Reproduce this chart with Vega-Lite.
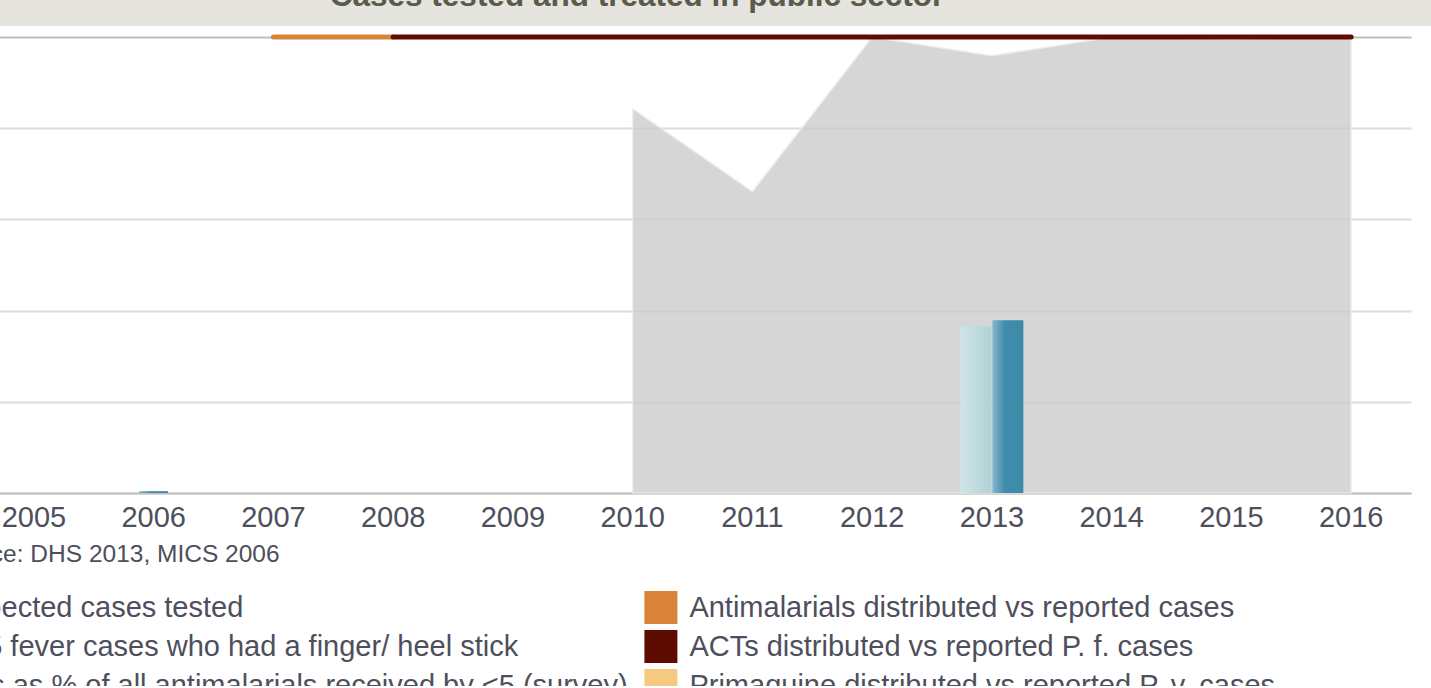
{
  "$schema": "https://vega.github.io/schema/vega-lite/v6.json",
  "background": "white",
  "padding": {"left": -110, "top": 0, "right": 0, "bottom": -16},
  "autosize": {"type": "pad"},
  "spacing": 11,
  "bounds": "flush",
  "config": {"view": {"stroke": null}, "font": "Liberation Sans"},
  "datasets": {
    "series": [
      {"series": "Suspected cases tested", "year": 2010, "value": 84.3},
      {"series": "Suspected cases tested", "year": 2011, "value": 66.1},
      {"series": "Suspected cases tested", "year": 2012, "value": 100},
      {"series": "Suspected cases tested", "year": 2013, "value": 95.9},
      {"series": "Suspected cases tested", "year": 2014, "value": 100},
      {"series": "Suspected cases tested", "year": 2015, "value": 99.5},
      {"series": "Suspected cases tested", "year": 2016, "value": 100},
      {"series": "Antimalarials distributed vs reported cases", "year": 2007, "value": 100},
      {"series": "Antimalarials distributed vs reported cases", "year": 2008, "value": 100},
      {"series": "ACTs distributed vs reported P. f. cases", "year": 2008, "value": 100},
      {"series": "ACTs distributed vs reported P. f. cases", "year": 2009, "value": 100},
      {"series": "ACTs distributed vs reported P. f. cases", "year": 2010, "value": 100},
      {"series": "ACTs distributed vs reported P. f. cases", "year": 2011, "value": 100},
      {"series": "ACTs distributed vs reported P. f. cases", "year": 2012, "value": 100},
      {"series": "ACTs distributed vs reported P. f. cases", "year": 2013, "value": 100},
      {"series": "ACTs distributed vs reported P. f. cases", "year": 2014, "value": 100},
      {"series": "ACTs distributed vs reported P. f. cases", "year": 2015, "value": 100},
      {"series": "ACTs distributed vs reported P. f. cases", "year": 2016, "value": 100},
      {"series": "% <5 fever cases who had a finger/ heel stick", "year": 2013, "value": 36.5},
      {"series": "ACTs as % of all antimalarials received by <5 (survey)", "year": 2013, "value": 37.9},
      {"series": "ACTs as % of all antimalarials received by <5 (survey)", "year": 2006, "value": 0.4}
    ]
  },
  "vconcat": [
    {
      "width": 1458,
      "height": 26,
      "view": {"fill": "#e5e4df", "stroke": null},
      "data": {"values": [{"title": "Cases tested and treated in public sector"}]},
      "mark": {"type": "text", "clip": true, "font": "Liberation Sans", "fontWeight": "bold", "fontSize": 31.5, "color": "#5a5b4b", "baseline": "alphabetic", "align": "center", "dx": -66, "dy": -7},
      "encoding": {"text": {"field": "title", "type": "nominal"}}
    },
    {
      "width": 1437,
      "height": 456,
      "data": {"name": "series"},
      "layer": [
        {
          "transform": [{"filter": "datum.series === 'Suspected cases tested'"}],
          "mark": {"type": "area", "opacity": 0.8, "stroke": "#ebebeb", "strokeWidth": 1.5},
          "encoding": {
            "x": {
              "field": "year", "type": "ordinal", "bandPosition": 0.5,
              "scale": {"type": "band", "domain": [2005, 2006, 2007, 2008, 2009, 2010, 2011, 2012, 2013, 2014, 2015, 2016], "paddingInner": 0, "paddingOuter": 0},
              "axis": {
                "title": "Source: DHS 2013, MICS 2006", "titleFontSize": 24.5, "titleFontWeight": "normal", "titleColor": "#4d4f5c",
                "titleAnchor": "start", "titleAlign": "left", "titleBaseline": "alphabetic", "titleX": -35.4, "titleY": 68,
                "labelFontSize": 29, "labelColor": "#4d4f5c", "labelAngle": 0, "labelPadding": 10,
                "ticks": false, "tickSize": 0, "domainColor": "#c0c0c0", "domainWidth": 2, "grid": false
              }
            },
            "y": {
              "field": "value", "type": "quantitative",
              "scale": {"domain": [0, 100], "nice": false},
              "axis": {
                "values": [0, 20, 40, 60, 80, 100], "labels": false, "ticks": false, "domain": false, "title": null,
                "grid": true, "gridWidth": 2,
                "gridColor": {"condition": {"test": "datum.value === 100", "value": "#bdbdbd"}, "value": "#dcdcdc"}
              }
            },
            "color": {
              "field": "series", "type": "nominal",
              "scale": {
                "domain": [
                  "Suspected cases tested",
                  "% <5 fever cases who had a finger/ heel stick",
                  "ACTs as % of all antimalarials received by <5 (survey)",
                  "Antimalarials distributed vs reported cases",
                  "ACTs distributed vs reported P. f. cases",
                  "Primaquine distributed vs reported P. v. cases"
                ],
                "range": ["#cccccc", "#b3d4d7", "#3d8aa8", "#d9833a", "#5e0c00", "#f5c97f"]
              },
              "legend": {
                "orient": "none", "legendX": -83.6, "legendY": 591, "columns": 2, "columnPadding": 16, "rowPadding": 6,
                "symbolType": "square", "symbolSize": 1089, "symbolStrokeWidth": 0, "symbolOpacity": 1,
                "labelFontSize": 29, "labelColor": "#4d4f5c", "labelOffset": 12, "labelLimit": 2000,
                "title": null, "padding": 0
              }
            }
          }
        },
        {
          "transform": [{"filter": "datum.series === 'Antimalarials distributed vs reported cases'"}],
          "mark": {"type": "line", "color": "#d9833a", "strokeWidth": 5, "strokeCap": "round"},
          "encoding": {
            "x": {"field": "year", "type": "ordinal", "bandPosition": 0.5},
            "y": {"field": "value", "type": "quantitative"}
          }
        },
        {
          "transform": [{"filter": "datum.series === 'ACTs distributed vs reported P. f. cases'"}],
          "mark": {"type": "line", "color": "#5e0c00", "strokeWidth": 5, "strokeCap": "round"},
          "encoding": {
            "x": {"field": "year", "type": "ordinal", "bandPosition": 0.5},
            "y": {"field": "value", "type": "quantitative"}
          }
        },
        {
          "transform": [{"filter": "datum.series === '% <5 fever cases who had a finger/ heel stick'"}],
          "mark": {
            "type": "bar", "width": 31, "xOffset": -16,
            "color": {"gradient": "linear", "x1": 0, "x2": 1, "y1": 0, "y2": 0, "stops": [{"offset": 0, "color": "#cfe5e8"}, {"offset": 1, "color": "#b0d2d6"}]}
          },
          "encoding": {
            "x": {"field": "year", "type": "ordinal"},
            "y": {"field": "value", "type": "quantitative"}
          }
        },
        {
          "transform": [{"filter": "datum.series === 'ACTs as % of all antimalarials received by <5 (survey)' && datum.year === 2013"}],
          "mark": {
            "type": "bar", "width": 31, "xOffset": 16,
            "color": {"gradient": "linear", "x1": 0, "x2": 1, "y1": 0, "y2": 0, "stops": [{"offset": 0, "color": "#86b8cc"}, {"offset": 0.4, "color": "#3f8cab"}, {"offset": 1, "color": "#3d89a8"}]}
          },
          "encoding": {
            "x": {"field": "year", "type": "ordinal"},
            "y": {"field": "value", "type": "quantitative"}
          }
        },
        {
          "transform": [{"filter": "datum.series === 'ACTs as % of all antimalarials received by <5 (survey)' && datum.year === 2006"}],
          "mark": {
            "type": "bar", "width": 29,
            "color": {"gradient": "linear", "x1": 0, "x2": 1, "y1": 0, "y2": 0, "stops": [{"offset": 0, "color": "#86b8cc"}, {"offset": 0.4, "color": "#3f8cab"}, {"offset": 1, "color": "#3d89a8"}]}
          },
          "encoding": {
            "x": {"field": "year", "type": "ordinal"},
            "y": {"field": "value", "type": "quantitative"}
          }
        }
      ]
    }
  ]
}
